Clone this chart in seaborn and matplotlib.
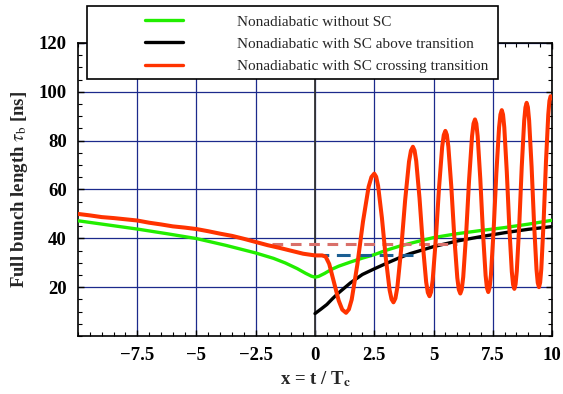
import numpy as np
import pandas as pd
import seaborn as sns
import matplotlib.pyplot as plt
from matplotlib.patches import Rectangle
from matplotlib.ticker import MultipleLocator

# Data
x_red = [-10, -9.5, -9, -8.5, -8, -7.5, -7, -6.5, -6, -5.5, -5, -4.5, -4, -3.5, -3, -2.5, -2, -1.5, -1, -0.5, 0,
         0.3, 0.45, 0.6, 0.8, 1.0, 1.15, 1.31,
         1.548, 1.786, 2.024, 2.262, 2.5, 2.662, 2.824, 2.986, 3.148, 3.31,
         3.474, 3.638, 3.802, 3.966, 4.13, 4.27, 4.41, 4.55, 4.69, 4.83,
         4.964, 5.098, 5.232, 5.366, 5.5, 5.626, 5.752, 5.878, 6.004, 6.13,
         6.254, 6.378, 6.502, 6.626, 6.75, 6.862, 6.974, 7.086, 7.198, 7.31,
         7.424, 7.538, 7.652, 7.766, 7.88, 7.986, 8.092, 8.198, 8.304, 8.41,
         8.514, 8.618, 8.722, 8.826, 8.93, 9.034, 9.138, 9.242, 9.346, 9.45,
         9.548, 9.646, 9.744, 9.842, 9.94, 10.0]
y_red = [50.0, 49.4, 48.7, 48.3, 47.8, 47.3, 46.4, 45.7, 44.9, 44.4, 43.8, 42.9, 41.9, 41.0, 39.8, 38.5, 37.2, 36.1, 34.9, 33.7, 33.0,
         33.0, 32.5, 29.5, 22.0, 14.5, 10.8, 9.5,
         14.9, 29.2, 46.8, 61.1, 66.5, 61.5, 48.3, 32.0, 18.8, 13.8,
         19.9, 35.8, 55.5, 71.4, 77.5, 71.7, 56.4, 37.4, 22.1, 16.3,
         22.8, 39.7, 60.6, 77.5, 84.0, 77.6, 61.0, 40.4, 23.8, 17.4,
         24.2, 42.0, 64.1, 81.9, 88.7, 81.9, 64.3, 42.4, 24.8, 18.0,
         25.1, 43.7, 66.8, 85.4, 92.5, 85.5, 67.2, 44.6, 26.3, 19.3,
         26.6, 45.6, 69.2, 88.2, 95.5, 88.3, 69.4, 46.1, 27.2, 20.0,
         27.5, 47.0, 71.2, 90.7, 98.2, 97.4]
# extra readings close to each peak and trough
x_red_near = [1.429, 2.381, 2.581, 3.229, 3.392, 4.048, 4.2, 4.76, 4.897, 5.433, 5.563, 6.067, 6.192,
              6.688, 6.806, 7.254, 7.367, 7.823, 7.933, 8.357, 8.462, 8.878, 8.982, 9.398, 9.499, 9.891]
y_red_near = [10.9, 65.1, 65.2, 15.1, 15.4, 75.9, 76.0, 17.8, 18.0, 82.3, 82.4, 19.0, 19.1,
              87.0, 87.0, 19.7, 19.8, 90.7, 90.7, 21.1, 21.2, 93.6, 93.7, 21.8, 21.9, 96.3]

x_green = [-10, -8.75, -7.5, -6.25, -5, -3.75, -2.5, -1.75, -1.25, -0.75, -0.4, -0.15, 0, 0.15, 0.4, 0.7,
           1, 1.5, 2, 2.5, 3, 3.5, 4, 5, 6, 7, 8, 9, 10]
y_green = [47.2, 45.5, 43.8, 41.9, 39.9, 37.1, 34.0, 31.8, 29.9, 27.6, 25.7, 24.5, 24.1, 24.4, 25.6, 27.3,
           28.6, 30.3, 31.9, 33.3, 35.1, 36.6, 37.9, 40.3, 41.9, 43.2, 44.4, 45.8, 47.4]

x_black = [0, 0.25, 0.5, 0.75, 1, 1.5, 2, 2.5, 3, 3.5, 4, 5, 6, 7, 8, 9, 10]
y_black = [9.2, 11.0, 12.9, 15.4, 17.7, 21.8, 25.2, 27.5, 29.7, 31.8, 33.7, 36.6, 38.9, 40.7, 42.3, 43.7, 44.8]

# dashed reference levels
x_pink = [-1.8, 6.0]
y_pink = [37.8, 37.8]
x_blue = [0, 4.15]
y_blue = [33.0, 33.0]

labels = ["Nonadiabatic without SC",
          "Nonadiabatic with SC above transition",
          "Nonadiabatic with SC crossing transition"]

xticks = [-7.5, -5, -2.5, 0, 2.5, 5, 7.5, 10]
xtick_labels = ["\u22127.5", "\u22125", "\u22122.5", "0", "2.5", "5", "7.5", "10"]
yticks = [20, 40, 60, 80, 100, 120]

red = pd.DataFrame({"x": x_red + x_red_near, "y": y_red + y_red_near}).sort_values("x")

sns.set_style("ticks")
plt.rcParams['font.family'] = ['Liberation Serif', 'DejaVu Serif']
plt.rcParams['mathtext.fontset'] = 'stix'

fig = plt.figure(figsize=(5.63, 3.94), dpi=100)
ax = fig.add_axes([0.1385, 0.1472, 0.842, 0.7437])

sns.lineplot(x=x_green, y=y_green, ax=ax, color="#22ee00", lw=2.4, estimator=None, label=labels[0], zorder=3)
sns.lineplot(x=x_black, y=y_black, ax=ax, color="black", lw=2.4, estimator=None, label=labels[1], zorder=3)
sns.lineplot(x=x_blue, y=y_blue, ax=ax, color="#1b5e92", lw=2.2, estimator=None, zorder=4)
ax.lines[-1].set_dashes([4.5, 2.5])
sns.lineplot(x=x_pink, y=y_pink, ax=ax, color="#d9706a", lw=2.2, estimator=None, zorder=4)
ax.lines[-1].set_dashes([3.5, 2.5])
sns.lineplot(data=red, x="x", y="y", ax=ax, color="#ff3300", lw=2.9, estimator=None, label=labels[2], zorder=5)

ax.set_xlim(-10, 10)
ax.set_ylim(0, 120)
ax.set_xticks(xticks)
ax.set_xticklabels(xtick_labels)
ax.set_yticks(yticks)
ax.xaxis.set_minor_locator(MultipleLocator(0.5))
ax.yaxis.set_minor_locator(MultipleLocator(5))
ax.grid(True, which="major", color="#1c2a8c", lw=0.9)
ax.axvline(0, color="#333333", lw=1.3, zorder=2)
ax.tick_params(which="both", direction="in", top=True, right=True, colors="black")
ax.tick_params(which="major", length=4, width=1)
ax.tick_params(which="minor", length=3, width=0.8)
ax.tick_params(axis="y", pad=8)
ax.tick_params(axis="x", pad=8)
for lab in ax.get_xticklabels() + ax.get_yticklabels():
    lab.set_fontsize(13.5)
    lab.set_fontweight("bold")
for sp in ax.spines.values():
    sp.set_color("black")
    sp.set_linewidth(1.2)

ax.set_xlabel(r"x = t / T$_\mathbf{c}$", fontsize=13.5, fontweight="bold", labelpad=4)
ax.set_ylabel(r"Full bunch length $\tau_\mathrm{b}$ [ns]", fontsize=13.5, fontweight="bold", labelpad=6)

# legend box sitting over the top of the axes
handles, labs = ax.get_legend_handles_labels()
ax.get_legend().remove()
box = Rectangle((87 / 563, 1 - 79 / 394), (498 - 87) / 563, (79 - 6) / 394, transform=fig.transFigure,
                facecolor="white", edgecolor="black", lw=1.2, zorder=5)
fig.patches.append(box)
leg = fig.legend(handles, labs, loc="upper left", bbox_to_anchor=(145 / 563, 1 - 15 / 394),
                 frameon=False, fontsize=11.0, handlelength=2.5, handletextpad=3.55,
                 borderpad=0, borderaxespad=0, labelspacing=0.55)
leg.set_zorder(6)
for h in leg.get_lines():
    h.set_linewidth(2.4)

fig.savefig("out.png", dpi=100)
